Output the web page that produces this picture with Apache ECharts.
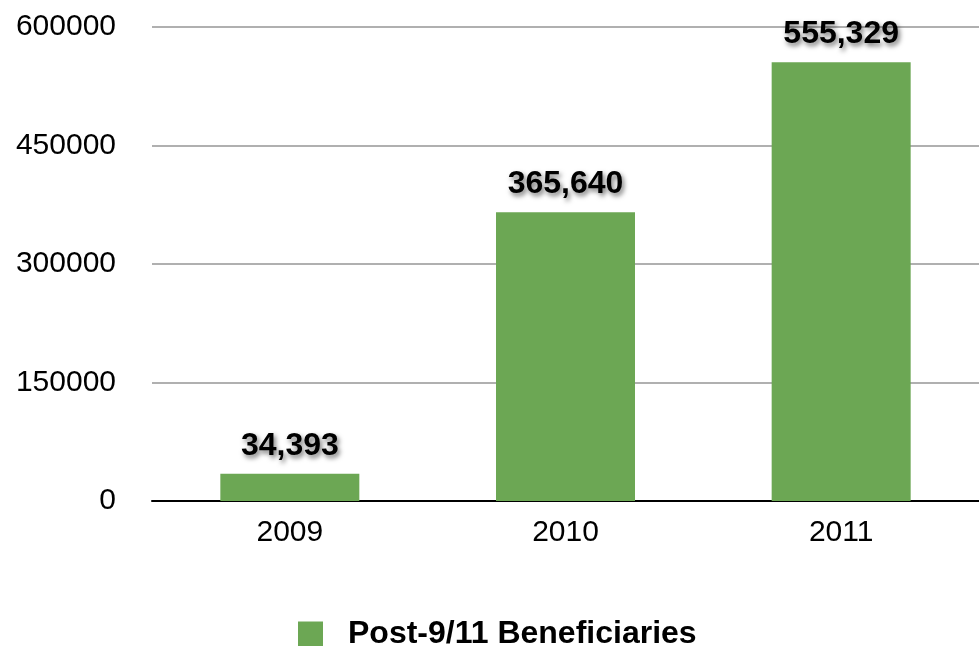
<!DOCTYPE html>
<html><head><meta charset="utf-8">
<script src="https://cdn.jsdelivr.net/npm/echarts@6/dist/echarts.min.js"></script>
<style>html,body{margin:0;padding:0;background:#fff;}#c{width:979px;height:646px;}</style>
</head><body><div id="c"></div>
<script>
const categories = ['2009', '2010', '2011'];
const seriesName = 'Post-9/11 Beneficiaries';
const values = [34393, 365640, 555329];
const yTicks = [0, 150000, 300000, 450000, 600000];

const chart = echarts.init(document.getElementById('c'));
chart.setOption({
  animation: false,
  textStyle: { fontFamily: 'Liberation Sans, Arial, sans-serif' },
  grid: { left: 152, right: 0, top: 27, bottom: 145, containLabel: false },
  legend: {
    data: [seriesName], top: 618, left: 298, padding: 0,
    itemWidth: 25, itemHeight: 25, itemGap: 10,
    icon: 'rect',
    textStyle: { fontSize: 32, lineHeight: 32, fontWeight: 'bold', color: '#000', padding: [0,0,0,20] }
  },
  xAxis: {
    type: 'category', data: categories,
    axisLine: { lineStyle: { color: '#000', width: 2 } },
    axisTick: { show: false },
    axisLabel: { fontSize: 30, color: '#000', margin: 17 }
  },
  yAxis: {
    type: 'value', min: yTicks[0], max: yTicks[yTicks.length-1], interval: 150000,
    axisLine: { show: false }, axisTick: { show: false },
    axisLabel: { fontSize: 30, color: '#000', margin: 36, formatter: v => String(v) },
    splitLine: { lineStyle: { color: '#b0b0b0', width: 2 } }
  },
  series: [{
    name: seriesName, type: 'bar', data: values, barWidth: 139,
    itemStyle: { color: '#6ca754' },
    label: {
      show: true, position: 'top', distance: 12,
      fontSize: 32, fontWeight: 'bold', color: '#000',
      textShadowColor: 'rgba(0,0,0,0.55)', textShadowBlur: 5, textShadowOffsetX: 2, textShadowOffsetY: 3,
      formatter: p => p.value.toLocaleString('en-US')
    }
  }]
});
</script></body></html>
